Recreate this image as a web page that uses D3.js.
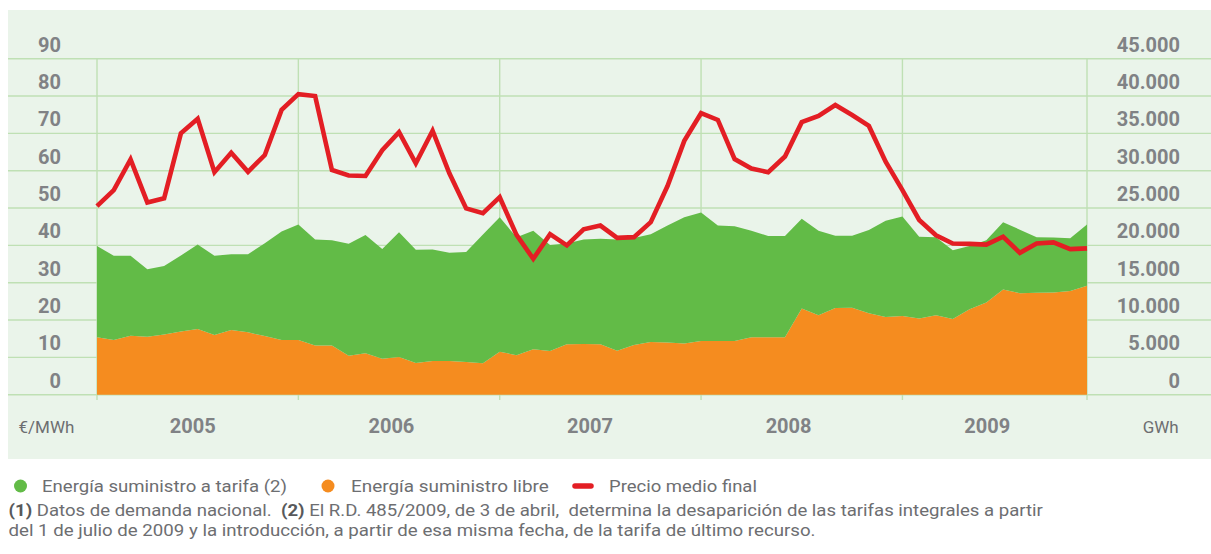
<!DOCTYPE html>
<html lang="es">
<head>
<meta charset="UTF-8">
<title>Energía suministrada y precio medio final 2005-2009</title>
<script src="https://d3js.org/d3.v7.min.js"></script>
<style>
    body { margin: 0; background: #fff; }
    svg { display: block; font-family: Roboto, 'Noto Sans', sans-serif; }
    .pre { white-space: pre; }
</style>
</head>
<body>
<svg id="chart" width="1211" height="554"></svg>
<script>
// --- data ---
const years = ["2005", "2006", "2007", "2008", "2009"];
const months = years.flatMap(y => ["01","02","03","04","05","06","07","08","09","10","11","12"].map(m => y + "-" + m));

// GWh, energía suministro libre (bottom, orange)
const libre = [7700, 7330, 7900, 7750, 8050, 8450, 8800, 8000, 8650, 8350, 7850, 7330,
               7330, 6600, 6600, 5200, 5550, 4800, 5050, 4250, 4500, 4500, 4380, 4200,
               5750, 5300, 6100, 5850, 6750, 6800, 6750, 5900, 6650, 7050, 7000, 6850,
               7200, 7200, 7200, 7700, 7700, 7700, 11550, 10650, 11600, 11650, 10900, 10400,
               10550, 10200, 10650, 10150, 11450, 12350, 14100, 13600, 13650, 13700, 13900, 14600];

// GWh, energía suministro a tarifa (stacked on top, green)
const tarifa = [12200, 11280, 10700, 9050, 9200, 10200, 11300, 10600, 10150, 10450, 12450, 14520,
                15480, 14200, 14100, 15000, 15850, 14700, 16700, 15150, 14950, 14500, 14720, 17250,
                18000, 15800, 15850, 14200, 13500, 14000, 14150, 14900, 14350, 14450, 15650, 16900,
                17200, 15450, 15350, 14250, 13550, 13550, 12000, 11300, 9700, 9650, 11150, 12900,
                13300, 10950, 10450, 9200, 8450, 8350, 9000, 8500, 7450, 7350, 7050, 8200];

// €/MWh, precio medio final (red line)
const precio = [50.5, 54.8, 63.0, 51.5, 52.6, 70.0, 73.9, 59.6, 64.8, 59.7, 64.2, 76.3,
                80.5, 80.0, 60.2, 58.7, 58.6, 65.5, 70.3, 62.0, 70.7, 59.3, 49.9, 48.6,
                52.9, 42.8, 36.4, 43.0, 40.0, 44.3, 45.3, 42.0, 42.2, 46.2, 55.9, 68.0,
                75.4, 73.6, 63.1, 60.6, 59.6, 63.8, 73.0, 74.7, 77.6, 74.9, 72.0, 62.4,
                54.8, 46.8, 42.7, 40.5, 40.4, 40.2, 42.3, 38.0, 40.5, 40.8, 39.0, 39.2];

const leftTicks = [0, 10, 20, 30, 40, 50, 60, 70, 80, 90];
const rightTicks = [0, 5000, 10000, 15000, 20000, 25000, 30000, 35000, 40000, 45000];

const legendItems = ["Energía suministro a tarifa (2)", "Energía suministro libre", "Precio medio final"];

// --- setup ---
const svg = d3.select("#chart");
const colors = { bg: "#eaf4ea", grid: "#bfe0b4", tarifa: "#62bb47", libre: "#f58c1f", precio: "#e31e24",
                 label: "#808285", text: "#6d6e71", bold: "#58595b" };

const x = d3.scaleLinear().domain([0, months.length - 1]).range([97, 1087]);
const yLeft = d3.scaleLinear().domain([0, 90]).range([394.7, 58.7]);
const yRight = d3.scaleLinear().domain([0, 45000]).range([394.7, 58.7]);
const xYear = d3.scaleBand().domain(years).range([93.5, 1086.5]);

const es = d3.formatLocale({ decimal: ",", thousands: ".", grouping: [3], currency: ["", "€"] });
const fmt = es.format(",d");

// panel background
svg.append("rect").attr("x", 8).attr("y", 10).attr("width", 1203).attr("height", 449).attr("fill", colors.bg);

// grid lines
svg.append("g").selectAll("line").data(leftTicks).join("line")
    .attr("x1", 8).attr("x2", 1211)
    .attr("y1", d => yLeft(d)).attr("y2", d => yLeft(d))
    .attr("stroke", colors.grid).attr("stroke-width", 1.4);

const yearEdges = [0, 12, 24, 36, 48, 59];
svg.append("g").selectAll("line").data(yearEdges).join("line")
    .attr("x1", d => x(d)).attr("x2", d => x(d))
    .attr("y1", yLeft(90)).attr("y2", 400)
    .attr("stroke", colors.grid).attr("stroke-width", 1.4);

// stacked areas
const rows = months.map((m, i) => ({ month: m, libre: libre[i], tarifa: tarifa[i] }));
const stack = d3.stack().keys(["libre", "tarifa"])(rows);
const area = d3.area()
    .x((d, i) => x(i))
    .y0(d => yRight(d[0]))
    .y1(d => yRight(d[1]));

svg.append("g").selectAll("path").data(stack).join("path")
    .attr("d", area)
    .attr("fill", d => colors[d.key]);

// price line
const line = d3.line().x((d, i) => x(i)).y(d => yLeft(d));
svg.append("path").datum(precio)
    .attr("d", line)
    .attr("fill", "none")
    .attr("stroke", colors.precio)
    .attr("stroke-width", 4.6)
    .attr("stroke-linejoin", "miter");

// axes (labels sit just above their grid line)
function styleAxis(g) {
    g.select(".domain").remove();
    g.selectAll("text")
        .attr("dy", null).attr("y", -7.5)
        .attr("fill", colors.label)
        .attr("font-size", 20).attr("font-weight", 700)
        .attr("font-family", "Roboto, sans-serif");
}
svg.append("g").attr("transform", "translate(61,0)")
    .call(d3.axisLeft(yLeft).tickValues(leftTicks).tickSize(0).tickPadding(0))
    .call(styleAxis);
svg.append("g").attr("transform", "translate(1180,0)")
    .call(d3.axisLeft(yRight).tickValues(rightTicks).tickSize(0).tickPadding(0).tickFormat(fmt))
    .call(styleAxis);

// years
svg.append("g").selectAll("text").data(years).join("text")
    .attr("x", d => xYear(d) + xYear.bandwidth() / 2).attr("y", 433.3)
    .attr("text-anchor", "middle")
    .attr("font-size", 20).attr("font-weight", 700)
    .attr("fill", colors.label)
    .text(d => d);

// unit labels
svg.append("text").attr("x", 18.5).attr("y", 433.3)
    .attr("font-size", 17).attr("fill", colors.text).text("€/MWh");
svg.append("text").attr("x", 1178.7).attr("y", 433.3).attr("text-anchor", "end")
    .attr("font-size", 17).attr("fill", colors.text).text("GWh");

// condensed text helper: squeeze a text to a target width
function fitText(sel, left, base, width) {
    const w = sel.node().getComputedTextLength();
    sel.attr("transform", `translate(${left},${base}) scale(${width / w},1)`);
}

// legend
const legend = svg.append("g");
legend.append("circle").attr("cx", 20.5).attr("cy", 486).attr("r", 6.5).attr("fill", colors.tarifa);
legend.append("circle").attr("cx", 328).attr("cy", 486).attr("r", 6.5).attr("fill", colors.libre);
legend.append("line").attr("x1", 575).attr("x2", 591).attr("y1", 486).attr("y2", 486)
    .attr("stroke", colors.precio).attr("stroke-width", 5.5).attr("stroke-linecap", "round");

const legendPos = [[42, 245], [351, 198], [609, 148]];
legendItems.forEach((t, i) => {
    const el = legend.append("text").attr("font-size", 17).attr("fill", colors.text).text(t);
    fitText(el, legendPos[i][0], 491.8, legendPos[i][1]);
});

// footnotes
const note1 = svg.append("text").attr("class", "pre").attr("font-size", 16).attr("fill", colors.text);
note1.append("tspan").attr("font-weight", 700).attr("fill", colors.bold).text("(1)");
note1.append("tspan").text(" Datos de demanda nacional.  ");
note1.append("tspan").attr("font-weight", 700).attr("fill", colors.bold).text("(2)");
note1.append("tspan").text(" El R.D. 485/2009, de 3 de abril,  determina la desaparición de las tarifas integrales a partir");
fitText(note1, 8.5, 516, 1034.5);

const note2 = svg.append("text").attr("class", "pre").attr("font-size", 16).attr("fill", colors.text)
    .text("del 1 de julio de 2009 y la introducción, a partir de esa misma fecha, de la tarifa de último recurso.");
fitText(note2, 8.5, 536, 807.5);
</script>
</body>
</html>
